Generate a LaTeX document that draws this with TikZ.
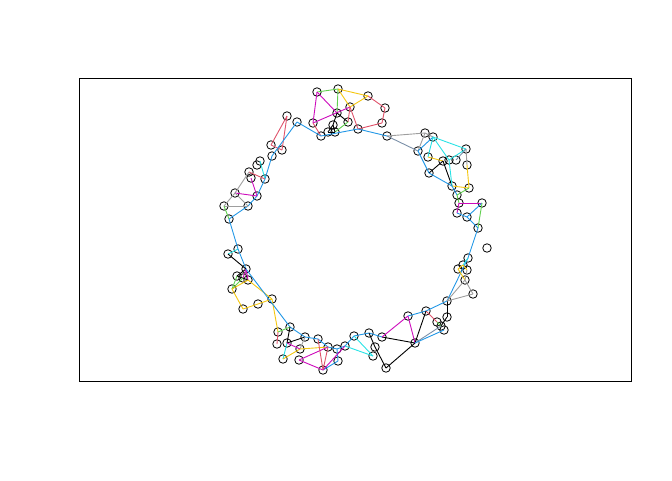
\documentclass[tikz,border=0pt]{standalone}
\definecolor{cr}{HTML}{DF536B}
\definecolor{cg}{HTML}{61D04F}
\definecolor{cb}{HTML}{2297E6}
\definecolor{cc}{HTML}{28E2E5}
\definecolor{cm}{HTML}{CD0BBC}
\definecolor{cy}{HTML}{F5C710}
\definecolor{cgr}{HTML}{9E9E9E}
\definecolor{ck}{HTML}{000000}
\definecolor{csl}{HTML}{7A8FA8}
\begin{document}
\begin{tikzpicture}[x=1pt,y=-1pt,
  v/.style={circle,draw=black,line width=0.8pt,minimum size=8.5pt,inner sep=0pt},
  e/.style={line width=0.9pt}]
\useasboundingbox (0,0) rectangle (672,480);
\draw[line width=0.8pt] (79,78) rectangle (631,381);
\foreach \n/\x/\y in {t1/317/92,t2/338/89,t3/368/96,t4/350/107,t5/385/108,t6/337/113,t7/313/123,t8/348/122,t9/382/123,t10/333/125,t11/321/136,t12/328/132,t13/335/132,t14/358/129,t15/387/136,
 l1/287/116,l2/297/122,l3/271/145,l4/282/150,l5/272/156,l6/260/161,l7/257/165,l8/249/172,l9/265/179,l10/251/178,l11/235/193,l12/257/196,l13/224/206,l14/248/206,l15/229/219,
 m1/238/249,m2/228/254,m3/246/269,m4/237/276,m5/243/278,m6/248/280,m7/232/289,m8/272/299,m9/258/304,m10/243/309,
 b1/290/327,b2/278/332,b3/305/337,b4/318/339,b5/277/344,b6/287/343,b7/300/349,b9/328/347,b10/337/349,b11/345/346,b12/283/359,b13/299/360,b14/323/370,b15/338/361,
 c1/354/336,c2/369/333,c3/382/337,c4/375/347,c5/373/356,c6/386/368,c9/415/343,
 d1/408/316,d2/426/311,d3/447/301,d4/473/294,d5/447/317,d6/437/322,d7/441/326,d8/444/330,
 e1/468/258,e2/463/265,e3/458/269,e4/467/270,e5/465/280,e6/487/248,
 r1/425/133,r2/433/137,r3/418/151,r4/466/149,r5/428/157,r6/443/161,r7/449/160,r8/456/160,r9/467/165,r10/429/173,r11/452/186,r12/469/188,r13/457/195,r14/459/203,r15/482/203,r16/457/213,r17/467/217,r18/478/228}
  \node[v] (\n) at (\x,\y) {};
\foreach \a/\b/\c in {t1/t2/cg,t2/t3/cy,t2/t4/cy,t3/t4/cy,t2/t6/cg,t1/t7/cm,t1/t6/cm,t7/t4/cm,t6/t10/ck,t6/t8/ck,t4/t14/cr,t4/t8/cr,t3/t5/cr,t5/t9/cr,t9/t14/cr,t7/t11/cr,t8/t13/cg,t10/t12/ck,t10/t13/ck,t12/t13/ck,
 l2/t11/cb,t11/t14/cb,t14/t15/cb,t15/r1/cgr,t15/r3/csl,
 l1/l3/cr,l1/l4/cr,l3/l4/cr,l2/l5/cb,l5/l9/cb,l9/l12/cb,l12/l14/cb,l14/l15/cb,l6/l9/cc,l8/l9/cr,l8/l11/cgr,l10/l12/cm,l11/l12/cm,l11/l13/cgr,l13/l14/cgr,l11/l14/cgr,l13/l15/cg,
 l15/m1/cb,m1/m2/cc,m1/m3/cb,m2/m3/ck,m3/m4/ck,m3/m5/cm,m3/m6/cm,m4/m6/ck,m4/m7/cg,m5/m7/cg,m6/m7/cy,m6/m8/cy,m7/m10/cy,m10/m9/cy,m9/m8/cy,m8/b2/cy,m3/b1/cb,
 b1/b2/cg,b1/b3/cb,b1/b6/ck,b2/b5/cr,b3/b6/ck,b3/b4/cb,b3/b7/cgr,b4/b9/cb,b9/b10/cb,b10/b11/cb,b6/b12/cc,b12/b7/cy,b7/b9/cy,b6/b7/cm,b13/b14/cm,b13/b9/cm,b9/b14/cr,b14/b15/cb,b15/b10/cb,b14/b11/cm,b4/b14/cr,
 b11/c1/cb,c1/c2/cb,c2/c3/cb,b11/c5/cc,c1/c5/cc,c2/c4/ck,c4/c6/ck,c6/c9/ck,c3/c9/ck,
 c3/d1/cm,d1/c9/cm,d1/d2/cb,d2/d3/cb,d3/d5/ck,d2/d6/cr,d6/d7/cg,d5/d7/ck,d2/c9/ck,c9/d7/csl,c9/d8/cb,
 d3/e1/cb,e1/e2/cc,e2/e3/cy,e3/e5/cy,e2/e4/cy,e4/e5/cgr,e5/d3/cgr,e5/d4/cgr,d4/d3/cgr,
 e1/r18/cb,r1/r2/cgr,r1/r3/cgr,r2/r3/cb,r2/r4/cc,r2/r5/cc,r2/r7/cc,r4/r7/cc,r4/r9/cgr,r4/r8/csl,r3/r10/cb,r5/r6/cy,r6/r10/ck,r6/r11/ck,r7/r11/cc,r9/r12/cy,r10/r11/cb,r11/r12/cy,r11/r13/cb,r12/r13/cg,r13/r14/cg,r14/r15/cm,r14/r16/cm,r16/r17/cb,r17/r15/cb,r15/r18/cg,r17/r18/cb}
  \draw[e,draw=\c] (\a.center) -- (\b.center);
\end{tikzpicture}
\end{document}
